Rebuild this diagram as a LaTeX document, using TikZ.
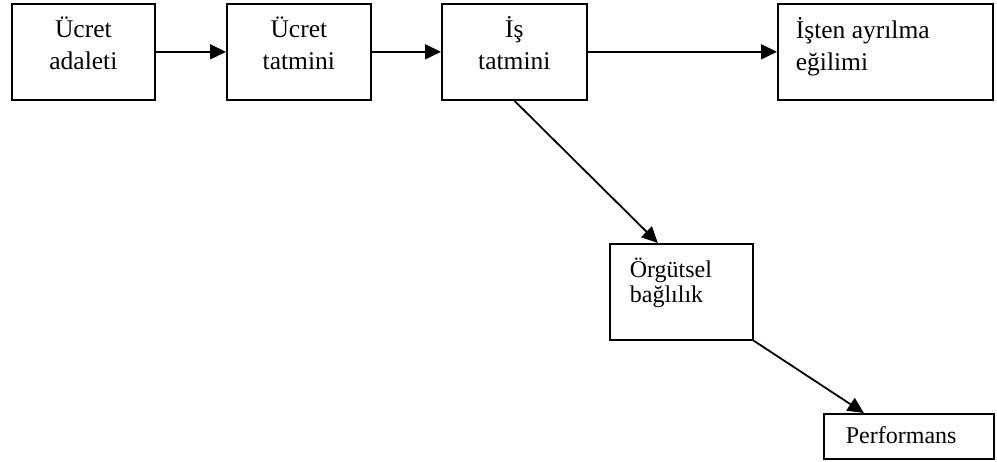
\documentclass[tikz,border=0pt]{standalone}
\usepackage{fontspec}
\setmainfont{Liberation Serif}
\usetikzlibrary{arrows.meta}

% box contents: fixed-size parbox, text hung from the top edge
\newcommand{\boxc}[3]{\parbox[c][#2][t]{#1}{\centering\rule{0pt}{34pt}#3}}
\newcommand{\boxl}[5]{\parbox[c][#2][t]{#1}{\raggedright\leftskip=#3\rule{0pt}{#4}#5}}

\tikzset{
  box/.style={draw, line width=1.7pt, inner sep=0pt, anchor=north west},
  big/.style={font=\fontsize{25.5pt}{32pt}\selectfont},
  small/.style={font=\fontsize{24pt}{25pt}\selectfont},
  link/.style={line width=1.8pt, -{Triangle[length=16pt,width=15pt]}},
}

\begin{document}
\begin{tikzpicture}[x=1pt,y=1pt]
\useasboundingbox[fill=white] (0,0) rectangle (997,-462);

\node[box,big] (b1) at (11,-3)  {\boxc{143pt}{96pt}{Ücret\\adaleti}};
\node[box,big] (b2) at (226,-3) {\boxc{144pt}{96pt}{Ücret\\tatmini}};
\node[box,big] (b3) at (441,-3) {\boxc{145pt}{96pt}{İş\\tatmini}};
\node[box,big] (b4) at (777,-3) {\boxl{215pt}{96pt}{18pt}{35pt}{İşten ayrılma\\eğilimi}};
\node[box,small] (b5) at (609,-243) {\boxl{143pt}{96pt}{20pt}{34pt}{Örgütsel\\bağlılık}};
\node[box,small] (b6) at (823,-413) {\boxl{170pt}{45pt}{22pt}{30pt}{Performans}};

\draw[link] (b1) -- (b2);
\draw[link] (b2) -- (b3);
\draw[link] (b3) -- (b4);
\draw[link] (b3.south) -- ([xshift=-23.5pt]b5.north);
\draw[link] (b5.south east) -- ([xshift=-45pt]b6.north);
\end{tikzpicture}
\end{document}
